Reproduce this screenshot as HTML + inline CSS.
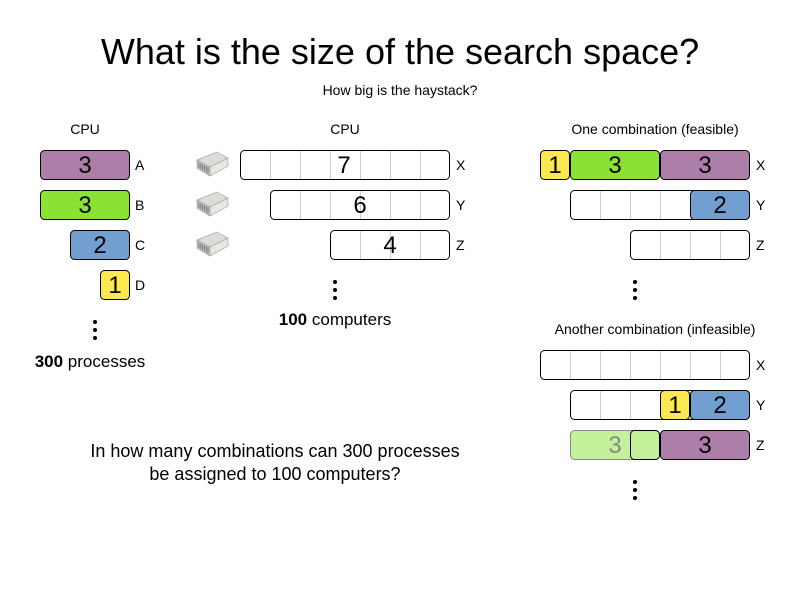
<!DOCTYPE html>
<html><head><meta charset="utf-8"><style>
html,body{margin:0;padding:0;background:#fff;}
svg{display:block;}
text{font-family:"Liberation Sans",Arial,sans-serif;fill:#000;}
</style></head><body>
<svg width="800" height="600" viewBox="0 0 800 600" xmlns="http://www.w3.org/2000/svg">
<defs>
<g id="srv">
  <polygon points="197,160 217,152 228,158 210,167" fill="#dcdcd8" stroke="#a8a8a4" stroke-width="0.7"/>
  <polygon points="197,160 210,167 210,176 197,168" fill="#c4c4c0" stroke="#a0a09c" stroke-width="0.7"/>
  <polygon points="210,167 228,158 228,166 210,176" fill="#e6e6e2" stroke="#a8a8a4" stroke-width="0.7"/>
  <g stroke="#6a6a6a" stroke-width="0.8">
    <line x1="199" y1="162.5" x2="199" y2="168"/>
    <line x1="200.8" y1="163.4" x2="200.8" y2="169"/>
    <line x1="202.6" y1="164.3" x2="202.6" y2="170.2"/>
    <line x1="204.4" y1="165.2" x2="204.4" y2="171.3"/>
    <line x1="206.2" y1="166.1" x2="206.2" y2="172.4"/>
    <line x1="208" y1="167" x2="208" y2="173.5"/>
  </g>
</g>
</defs>

<!-- Title -->
<text x="400" y="64" font-size="36" text-anchor="middle">What is the size of the search space?</text>
<text x="400" y="95" font-size="14" text-anchor="middle">How big is the haystack?</text>

<!-- Left column -->
<text x="85" y="134" font-size="14" text-anchor="middle">CPU</text>
<rect x="40.5" y="150.5" width="89" height="29" rx="4" fill="#ad7fa8" stroke="#000"/>
<text x="85" y="173" font-size="24" text-anchor="middle">3</text>
<text x="135" y="170" font-size="14">A</text>
<rect x="40.5" y="190.5" width="89" height="29" rx="4" fill="#8ae234" stroke="#000"/>
<text x="85" y="213" font-size="24" text-anchor="middle">3</text>
<text x="135" y="210" font-size="14">B</text>
<rect x="70.5" y="230.5" width="59" height="29" rx="4" fill="#729fcf" stroke="#000"/>
<text x="100" y="253" font-size="24" text-anchor="middle">2</text>
<text x="135" y="250" font-size="14">C</text>
<rect x="100.5" y="270.5" width="29" height="29" rx="4" fill="#fce94f" stroke="#000"/>
<text x="115" y="293" font-size="24" text-anchor="middle">1</text>
<text x="135" y="290" font-size="14">D</text>
<circle cx="95" cy="322" r="2"/><circle cx="95" cy="330" r="2"/><circle cx="95" cy="338" r="2"/>
<text x="90" y="367" font-size="17" text-anchor="middle"><tspan font-weight="bold">300</tspan> processes</text>

<!-- Middle column -->
<text x="345" y="134" font-size="14" text-anchor="middle">CPU</text>
<use href="#srv"/>
<use href="#srv" y="40"/>
<use href="#srv" y="80"/>
<rect x="240.5" y="150.5" width="209" height="29" rx="4" fill="#fff" stroke="#000"/>
<g stroke="#cfcfc8">
<line x1="270.5" y1="151" x2="270.5" y2="179"/><line x1="300.5" y1="151" x2="300.5" y2="179"/>
<line x1="330.5" y1="151" x2="330.5" y2="179"/><line x1="360.5" y1="151" x2="360.5" y2="179"/>
<line x1="390.5" y1="151" x2="390.5" y2="179"/><line x1="420.5" y1="151" x2="420.5" y2="179"/>
</g>
<text x="344" y="173" font-size="24" text-anchor="middle">7</text>
<text x="456" y="170" font-size="14">X</text>
<rect x="270.5" y="190.5" width="179" height="29" rx="4" fill="#fff" stroke="#000"/>
<g stroke="#cfcfc8">
<line x1="300.5" y1="191" x2="300.5" y2="219"/><line x1="330.5" y1="191" x2="330.5" y2="219"/>
<line x1="360.5" y1="191" x2="360.5" y2="219"/><line x1="390.5" y1="191" x2="390.5" y2="219"/>
<line x1="420.5" y1="191" x2="420.5" y2="219"/>
</g>
<text x="360" y="213" font-size="24" text-anchor="middle">6</text>
<text x="456" y="210" font-size="14">Y</text>
<rect x="330.5" y="230.5" width="119" height="29" rx="4" fill="#fff" stroke="#000"/>
<g stroke="#cfcfc8">
<line x1="360.5" y1="231" x2="360.5" y2="259"/><line x1="390.5" y1="231" x2="390.5" y2="259"/>
<line x1="420.5" y1="231" x2="420.5" y2="259"/>
</g>
<text x="390" y="253" font-size="24" text-anchor="middle">4</text>
<text x="456" y="250" font-size="14">Z</text>
<circle cx="335" cy="282" r="2"/><circle cx="335" cy="290" r="2"/><circle cx="335" cy="298" r="2"/>
<text x="335" y="325" font-size="17" text-anchor="middle"><tspan font-weight="bold">100</tspan> computers</text>

<!-- Right: feasible -->
<text x="655" y="134" font-size="14" text-anchor="middle">One combination (feasible)</text>
<rect x="540.5" y="150.5" width="29" height="29" rx="4" fill="#fce94f" stroke="#000"/>
<text x="555" y="173" font-size="24" text-anchor="middle">1</text>
<rect x="570.5" y="150.5" width="89" height="29" rx="4" fill="#8ae234" stroke="#000"/>
<text x="615" y="173" font-size="24" text-anchor="middle">3</text>
<rect x="660.5" y="150.5" width="89" height="29" rx="4" fill="#ad7fa8" stroke="#000"/>
<text x="705" y="173" font-size="24" text-anchor="middle">3</text>
<text x="756" y="170" font-size="14">X</text>

<rect x="570.5" y="190.5" width="179" height="29" rx="4" fill="#fff" stroke="#000"/>
<g stroke="#cfcfc8">
<line x1="600.5" y1="191" x2="600.5" y2="219"/><line x1="630.5" y1="191" x2="630.5" y2="219"/>
<line x1="660.5" y1="191" x2="660.5" y2="219"/>
</g>
<rect x="690.5" y="190.5" width="59" height="29" rx="4" fill="#729fcf" stroke="#000"/>
<text x="720" y="213" font-size="24" text-anchor="middle">2</text>
<text x="756" y="210" font-size="14">Y</text>

<rect x="630.5" y="230.5" width="119" height="29" rx="4" fill="#fff" stroke="#000"/>
<g stroke="#cfcfc8">
<line x1="660.5" y1="231" x2="660.5" y2="259"/><line x1="690.5" y1="231" x2="690.5" y2="259"/>
<line x1="720.5" y1="231" x2="720.5" y2="259"/>
</g>
<text x="756" y="250" font-size="14">Z</text>
<circle cx="635" cy="282" r="2"/><circle cx="635" cy="290" r="2"/><circle cx="635" cy="298" r="2"/>

<!-- Right: infeasible -->
<text x="655" y="334" font-size="14" text-anchor="middle">Another combination (infeasible)</text>
<rect x="540.5" y="350.5" width="209" height="29" rx="4" fill="#fff" stroke="#000"/>
<g stroke="#cfcfc8">
<line x1="570.5" y1="351" x2="570.5" y2="379"/><line x1="600.5" y1="351" x2="600.5" y2="379"/>
<line x1="630.5" y1="351" x2="630.5" y2="379"/><line x1="660.5" y1="351" x2="660.5" y2="379"/>
<line x1="690.5" y1="351" x2="690.5" y2="379"/><line x1="720.5" y1="351" x2="720.5" y2="379"/>
</g>
<text x="756" y="370" font-size="14">X</text>

<rect x="570.5" y="390.5" width="179" height="29" rx="4" fill="#fff" stroke="#000"/>
<g stroke="#cfcfc8">
<line x1="600.5" y1="391" x2="600.5" y2="419"/><line x1="630.5" y1="391" x2="630.5" y2="419"/>
</g>
<rect x="660.5" y="390.5" width="29" height="29" rx="4" fill="#fce94f" stroke="#000"/>
<text x="675" y="413" font-size="24" text-anchor="middle">1</text>
<rect x="690.5" y="390.5" width="59" height="29" rx="4" fill="#729fcf" stroke="#000"/>
<text x="720" y="413" font-size="24" text-anchor="middle">2</text>
<text x="756" y="410" font-size="14">Y</text>

<rect x="570.5" y="430.5" width="89" height="29" rx="4" fill="#c5f09c" stroke="#8a8a8a"/>
<text x="615" y="453" font-size="24" text-anchor="middle" style="fill:#888">3</text>
<rect x="630.5" y="430.5" width="29" height="29" rx="4" fill="#c5f09c" stroke="#000"/>
<rect x="660.5" y="430.5" width="89" height="29" rx="4" fill="#ad7fa8" stroke="#000"/>
<text x="705" y="453" font-size="24" text-anchor="middle">3</text>
<text x="756" y="450" font-size="14">Z</text>
<circle cx="635" cy="482" r="2"/><circle cx="635" cy="490" r="2"/><circle cx="635" cy="498" r="2"/>

<!-- Question -->
<text x="275" y="457" font-size="18" text-anchor="middle">In how many combinations can 300 processes</text>
<text x="275" y="480" font-size="18" text-anchor="middle">be assigned to 100 computers?</text>
</svg>
</body></html>
